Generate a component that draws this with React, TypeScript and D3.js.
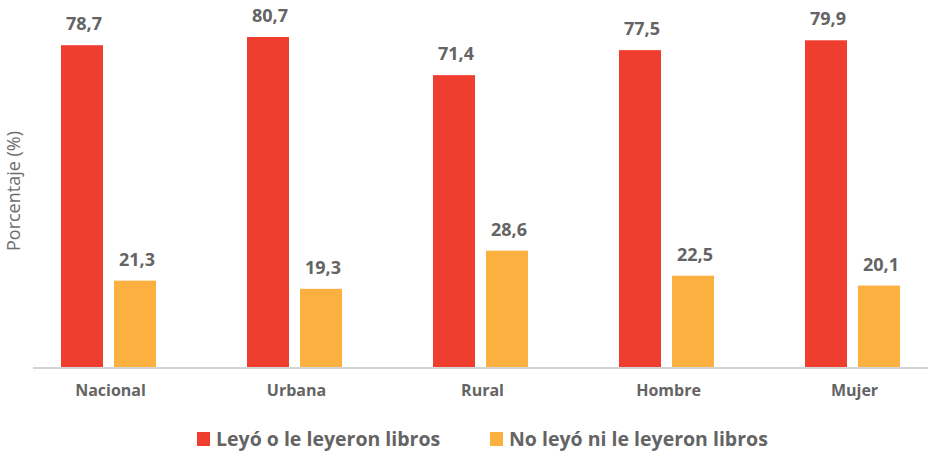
import React from 'react';
import * as d3 from 'd3';

const categories = ['Nacional', 'Urbana', 'Rural', 'Hombre', 'Mujer'];
const seriesNames = ['Leyó o le leyeron libros', 'No leyó ni le leyeron libros'];
const leyo = [78.7, 80.7, 71.4, 77.5, 79.9];
const noLeyo = [21.3, 19.3, 28.6, 22.5, 20.1];
const colors = ['#EF3E2F', '#FBB040'];

const W = 928;
const H = 453;
const baseY = 368;
const font = "'Open Sans', sans-serif";
const textColor = '#646464';

const locale = d3.formatLocale({ decimal: ',', thousands: '.', grouping: [3], currency: ['', ''] });
const fmt = locale.format('.1f');

export default function App() {
  const x0 = d3.scaleBand<string>().domain(categories).range([15.5, 945.5]).padding(0);
  const x1 = d3.scaleBand<string>().domain(seriesNames).range([-47.5, 47.5]).paddingInner(0.2075).paddingOuter(0);
  const y = d3.scaleLinear().domain([0, 80.7]).range([baseY, 37]);

  const values = [leyo, noLeyo];

  return (
    <svg width={W} height={H} style={{ position: 'absolute', left: 0, top: 0, background: '#fff' }}>
      <text
        transform={`translate(20,191) rotate(-90)`}
        textAnchor="middle"
        fontFamily={font}
        fontSize={18}
        fill="#6e6e6e"
      >
        Porcentaje (%)
      </text>

      {categories.map((c, i) => {
        const cx = (x0(c) as number) + x0.bandwidth() / 2;
        return (
          <g key={c} transform={`translate(${cx},0)`}>
            {seriesNames.map((s, j) => {
              const v = values[j][i];
              const bx = x1(s) as number;
              return (
                <g key={s}>
                  <rect x={bx} y={y(v)} width={x1.bandwidth()} height={baseY - y(v)} fill={colors[j]} />
                  <text
                    x={bx + x1.bandwidth() / 2 + 2}
                    y={y(v) - 15}
                    textAnchor="middle"
                    fontFamily={font}
                    fontWeight={700}
                    fontSize={18}
                    fill={textColor}
                  >
                    {fmt(v)}
                  </text>
                </g>
              );
            })}
            <text
              x={2}
              y={396}
              textAnchor="middle"
              fontFamily={font}
              fontWeight={700}
              fontSize={16}
              fill={textColor}
            >
              {c}
            </text>
          </g>
        );
      })}

      <line x1={33} x2={W} y1={baseY} y2={baseY} stroke="#d4d4d4" strokeWidth={2} />

      {seriesNames.map((s, j) => {
        const lx = j === 0 ? 197 : 490;
        return (
          <g key={s} transform={`translate(${lx},432)`}>
            <rect x={0} y={0} width={13} height={14} fill={colors[j]} />
            <text x={19} y={14} fontFamily={font} fontWeight={700} fontSize={19.5} fill={textColor}>
              {s}
            </text>
          </g>
        );
      })}
    </svg>
  );
}
